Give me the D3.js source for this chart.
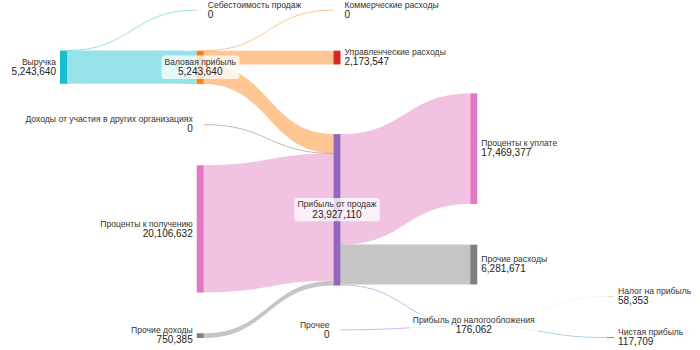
<!DOCTYPE html>
<html><head><meta charset="utf-8">
<script src="https://cdn.jsdelivr.net/npm/d3@7"></script>
<style>html,body{margin:0;padding:0;background:#fff;} svg{display:block;}</style>
</head><body>
<svg id="chart" width="700" height="350"></svg>
<script>
// ---------- DATA ----------
const nodeNames = [
  "Выручка",
  "Себестоимость продаж",
  "Валовая прибыль",
  "Коммерческие расходы",
  "Управленческие расходы",
  "Прибыль от продаж",
  "Доходы от участия в других организациях",
  "Проценты к получению",
  "Проценты к уплате",
  "Прочие доходы",
  "Прочие расходы",
  "Прибыль до налогообложения",
  "Налог на прибыль",
  "Прочее",
  "Чистая прибыль"
];
const linkSources = [
  "Выручка", "Выручка",
  "Валовая прибыль", "Валовая прибыль", "Валовая прибыль",
  "Доходы от участия в других организациях", "Проценты к получению", "Прочие доходы",
  "Прибыль от продаж", "Прибыль от продаж", "Прибыль от продаж",
  "Прочее",
  "Прибыль до налогообложения", "Прибыль до налогообложения"
];
const linkTargets = [
  "Себестоимость продаж", "Валовая прибыль",
  "Коммерческие расходы", "Управленческие расходы", "Прибыль от продаж",
  "Прибыль от продаж", "Прибыль от продаж", "Прибыль от продаж",
  "Проценты к уплате", "Прочие расходы", "Прибыль до налогообложения",
  "Прибыль до налогообложения",
  "Налог на прибыль", "Чистая прибыль"
];
const linkValues = [
  0, 5243640,
  0, 2173547, 3070093,
  0, 20106632, 750385,
  17469377, 6281671, 176062,
  0,
  58353, 117709
];

// ---------- STYLE ----------
const nodeColors = {
  "Выручка": "#17becf",
  "Себестоимость продаж": "#17becf",
  "Валовая прибыль": "#ff7f0e",
  "Коммерческие расходы": "#ff7f0e",
  "Управленческие расходы": "#d62728",
  "Прибыль от продаж": "#9467bd",
  "Доходы от участия в других организациях": "#8c564b",
  "Проценты к получению": "#e377c2",
  "Проценты к уплате": "#e377c2",
  "Прочие доходы": "#7f7f7f",
  "Прочие расходы": "#7f7f7f",
  "Прибыль до налогообложения": "#9467bd",
  "Налог на прибыль": "#bcbd22",
  "Прочее": "#9467bd",
  "Чистая прибыль": "#1f77b4"
};
const linkColorBy = ["source","source","source","source","source","source","source","source",
                     "target","target","source","source","target","target"];

const x0 = 60, x1 = 614, y0 = 10, y1 = 338;
const dx = 7, py = 40.7, iterations = 32;
const linkOpacity = 0.45;
const fontFamily = "'Liberation Sans', Arial, sans-serif";

// ---------- LAYOUT (d3-sankey algorithm, input node order kept) ----------
const nodes = nodeNames.map((name, i) => ({name, index: i, color: nodeColors[name], sourceLinks: [], targetLinks: []}));
const byName = new Map(nodes.map(n => [n.name, n]));
const links = linkValues.map((v, i) => ({
  index: i, source: byName.get(linkSources[i]), target: byName.get(linkTargets[i]), value: v, colorBy: linkColorBy[i]
}));
links.forEach(l => { l.source.sourceLinks.push(l); l.target.targetLinks.push(l); });
nodes.forEach(n => n.value = Math.max(d3.sum(n.targetLinks, l => l.value), d3.sum(n.sourceLinks, l => l.value)));

nodes.forEach(n => n.layer = 0);
let changed = true;
while (changed) {
  changed = false;
  links.forEach(l => { if (l.target.layer < l.source.layer + 1) { l.target.layer = l.source.layer + 1; changed = true; } });
}
nodes.filter(n => !n.targetLinks.length).forEach(n => { n.layer = d3.min(n.sourceLinks, l => l.target.layer) - 1; });
const maxLayer = d3.max(nodes, n => n.layer);
const xScale = d3.scaleLinear().domain([0, maxLayer]).range([x0, x1 - dx]);
nodes.forEach(n => { n.x0 = xScale(n.layer); n.x1 = n.x0 + dx; });
const columns = d3.range(maxLayer + 1).map(d => nodes.filter(n => n.layer === d));

const ky = d3.min(columns, c => (y1 - y0 - (c.length - 1) * py) / d3.sum(c, n => n.value));
const vScale = d3.scaleLinear().domain([0, 1]).range([0, ky]);

const ascendingBreadth = (a, b) => a.y0 - b.y0;
const ascendingSourceBreadth = (a, b) => ascendingBreadth(a.source, b.source) || a.index - b.index;
const ascendingTargetBreadth = (a, b) => ascendingBreadth(a.target, b.target) || a.index - b.index;
function reorderLinks(ns) {
  for (const {sourceLinks, targetLinks} of ns) { sourceLinks.sort(ascendingTargetBreadth); targetLinks.sort(ascendingSourceBreadth); }
}
function reorderNodeLinks({sourceLinks, targetLinks}) {
  for (const {source: {sourceLinks}} of targetLinks) sourceLinks.sort(ascendingTargetBreadth);
  for (const {target: {targetLinks}} of sourceLinks) targetLinks.sort(ascendingSourceBreadth);
}
function targetTop(source, target) {
  let y = source.y0 - (source.sourceLinks.length - 1) * py / 2;
  for (const {target: node, width} of source.sourceLinks) { if (node === target) break; y += width + py; }
  for (const {source: node, width} of target.targetLinks) { if (node === source) break; y -= width; }
  return y;
}
function sourceTop(source, target) {
  let y = target.y0 - (target.targetLinks.length - 1) * py / 2;
  for (const {source: node, width} of target.targetLinks) { if (node === source) break; y += width + py; }
  for (const {target: node, width} of source.sourceLinks) { if (node === target) break; y -= width; }
  return y;
}
function resolveTopToBottom(ns, y, i, alpha) {
  for (; i < ns.length; ++i) {
    const node = ns[i]; const d = (y - node.y0) * alpha;
    if (d > 1e-6) { node.y0 += d; node.y1 += d; }
    y = node.y1 + py;
  }
}
function resolveBottomToTop(ns, y, i, alpha) {
  for (; i >= 0; --i) {
    const node = ns[i]; const d = (node.y1 - y) * alpha;
    if (d > 1e-6) { node.y0 -= d; node.y1 -= d; }
    y = node.y0 - py;
  }
}
function resolveCollisions(ns, alpha) {
  const i = ns.length >> 1; const subject = ns[i];
  resolveBottomToTop(ns, subject.y0 - py, i - 1, alpha);
  resolveTopToBottom(ns, subject.y1 + py, i + 1, alpha);
  resolveBottomToTop(ns, y1, ns.length - 1, alpha);
  resolveTopToBottom(ns, y0, 0, alpha);
}
function relaxLeftToRight(alpha, beta) {
  for (let i = 1; i < columns.length; ++i) {
    for (const target of columns[i]) {
      let y = 0, w = 0;
      for (const {source, value} of target.targetLinks) { y += targetTop(source, target) * value; w += value; }
      if (!(w > 0)) continue;
      const d = (y / w - target.y0) * alpha;
      target.y0 += d; target.y1 += d;
      reorderNodeLinks(target);
    }
    resolveCollisions(columns[i], beta);
  }
}
function relaxRightToLeft(alpha, beta) {
  for (let i = columns.length - 2; i >= 0; --i) {
    for (const source of columns[i]) {
      let y = 0, w = 0;
      for (const {target, value} of source.sourceLinks) { y += sourceTop(source, target) * value; w += value; }
      if (!(w > 0)) continue;
      const d = (y / w - source.y0) * alpha;
      source.y0 += d; source.y1 += d;
      reorderNodeLinks(source);
    }
    resolveCollisions(columns[i], beta);
  }
}
for (const ns of columns) {
  let y = y0;
  for (const node of ns) {
    node.y0 = y; node.y1 = y + vScale(node.value); y = node.y1 + py;
    for (const link of node.sourceLinks) link.width = vScale(link.value);
  }
  y = (y1 - y + py) / (ns.length + 1);
  ns.forEach((node, i) => { node.y0 += y * (i + 1); node.y1 += y * (i + 1); });
  reorderLinks(ns);
}
for (let i = 0; i < iterations; ++i) {
  const alpha = Math.pow(0.99, i);
  const beta = Math.max(1 - alpha, (i + 1) / iterations);
  relaxRightToLeft(alpha, beta);
  relaxLeftToRight(alpha, beta);
}
reorderLinks(nodes);
for (const node of nodes) {
  let a = node.y0, b = node.y0;
  for (const l of node.sourceLinks) { l.sy = a; a += l.width; }
  for (const l of node.targetLinks) { l.ty = b; b += l.width; }
}

// ---------- RENDER ----------
const svg = d3.select("#chart");
svg.append("rect").attr("width", 700).attr("height", 350).attr("fill", "#fff");

const linkLayer = svg.append("g");
links.forEach(l => {
  const xa = l.source.x1, xb = l.target.x0, xm = (xa + xb) / 2;
  const ya = l.sy, yb = l.ty, w = l.width;
  const color = l.colorBy === "source" ? l.source.color : l.target.color;
  if (w < 0.01) {
    linkLayer.append("path")
      .attr("d", `M${xa},${ya}C${xm},${ya} ${xm},${yb} ${xb},${yb}`)
      .attr("fill", "none").attr("stroke", color).attr("stroke-opacity", linkOpacity).attr("stroke-width", 1);
  } else {
    linkLayer.append("path")
      .attr("d", `M${xa},${ya}C${xm},${ya} ${xm},${yb} ${xb},${yb}` +
                 `L${xb},${yb + w}C${xm},${yb + w} ${xm},${ya + w} ${xa},${ya + w}Z`)
      .attr("fill", color).attr("fill-opacity", linkOpacity);
  }
});

svg.append("g").selectAll("rect").data(nodes).join("rect")
  .attr("x", d => d.x0).attr("y", d => d.y0)
  .attr("width", dx).attr("height", d => d.y1 - d.y0)
  .attr("fill", d => d.color);

const fmt = d3.format(",");
const labelLayer = svg.append("g").attr("font-family", fontFamily);
nodes.forEach(n => {
  const cy = (n.y0 + n.y1) / 2;
  const hasIn = n.targetLinks.length > 0, hasOut = n.sourceLinks.length > 0;
  let anchor, tx;
  if (hasIn && hasOut) { anchor = "middle"; tx = (n.x0 + n.x1) / 2; }
  else if (!hasIn) { anchor = "end"; tx = n.x0 - 4; }
  else { anchor = "start"; tx = n.x1 + 4; }
  const g = labelLayer.append("g");
  const t = g.append("text").attr("text-anchor", anchor);
  t.append("tspan").attr("x", tx).attr("y", cy - 2.3).attr("font-size", 8.6).attr("fill", "#333").text(n.name);
  t.append("tspan").attr("x", tx).attr("y", cy + 7.8).attr("font-size", 10).attr("fill", "#222").text(fmt(n.value));
  if (anchor === "middle") {
    const bb = t.node().getBBox();
    g.insert("rect", "text")
      .attr("x", bb.x - 3).attr("y", cy - 11.7)
      .attr("width", bb.width + 6).attr("height", 23.3)
      .attr("rx", 3).attr("fill", "#fff").attr("fill-opacity", 0.75);
  }
});
</script>
</body></html>
